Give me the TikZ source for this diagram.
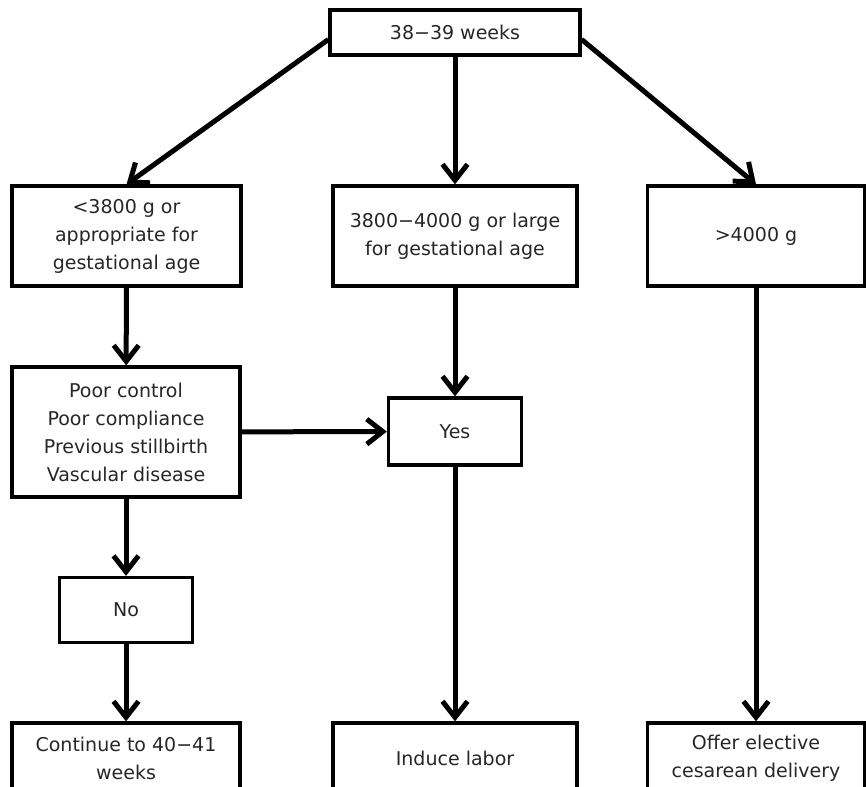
\documentclass[tikz,border=0pt]{standalone}
\usepackage{fontspec}
\setmainfont{DejaVu Sans}
\usetikzlibrary{arrows.meta,positioning}
\definecolor{InkGray}{HTML}{262626}

\begin{document}
\begin{tikzpicture}[x=1pt,y=-1pt,
  box/.style={draw,line width=3.3pt,inner sep=0pt,align=center,text=InkGray,font=\fontsize{19}{28}\selectfont},
  colbox/.style={box,minimum width=229pt,minimum height=100pt},
  endbox/.style={box,minimum height=70pt},
  arrow/.style={-{Straight Barb[length=16pt,width=25pt]},line width=5pt}
]
\useasboundingbox (0,0) rectangle (866,786);
\node[box,minimum width=250pt,minimum height=45pt] (start) at (455,32.5) {38−39 weeks};
\node[colbox] (small) at (126.5,236) {<3800 g or\\appropriate for\\gestational age};
\node[colbox,minimum width=244pt] (large) at (455,236) {3800−4000 g or large\\for gestational age};
\node[colbox,minimum width=217pt] (huge) at (756,236) {>4000 g};
\node[box,minimum width=228pt,minimum height=130pt] (risk) at (126,432) {Poor control\\Poor compliance\\Previous stillbirth\\Vascular disease};
\node[box,minimum width=133pt,minimum height=67pt] (yes) at (455,431.5) {Yes};
\node[box,minimum width=133pt,minimum height=65pt] (no) at (126,610) {No};
\node[endbox,minimum width=228pt] (wait) at (126,758) {Continue to 40−41\\weeks};
\node[endbox,minimum width=244pt] (induce) at (455,758) {Induce labor};
\node[endbox,minimum width=217pt] (cesar) at (756,758) {Offer elective\\cesarean delivery};
\draw[arrow] ([yshift=-7pt]start.west)--(small.north);
\draw[arrow] (start)--(large);
\draw[arrow] ([yshift=-7pt]start.east)--(huge.north);
\draw[arrow] (small)--(risk);
\draw[arrow] (large)--(yes);
\draw[arrow] (risk)--(yes);
\draw[arrow] (risk)--(no);
\draw[arrow] (no)--(wait);
\draw[arrow] (yes)--(induce);
\draw[arrow] (huge)--(cesar);
\end{tikzpicture}
\end{document}
